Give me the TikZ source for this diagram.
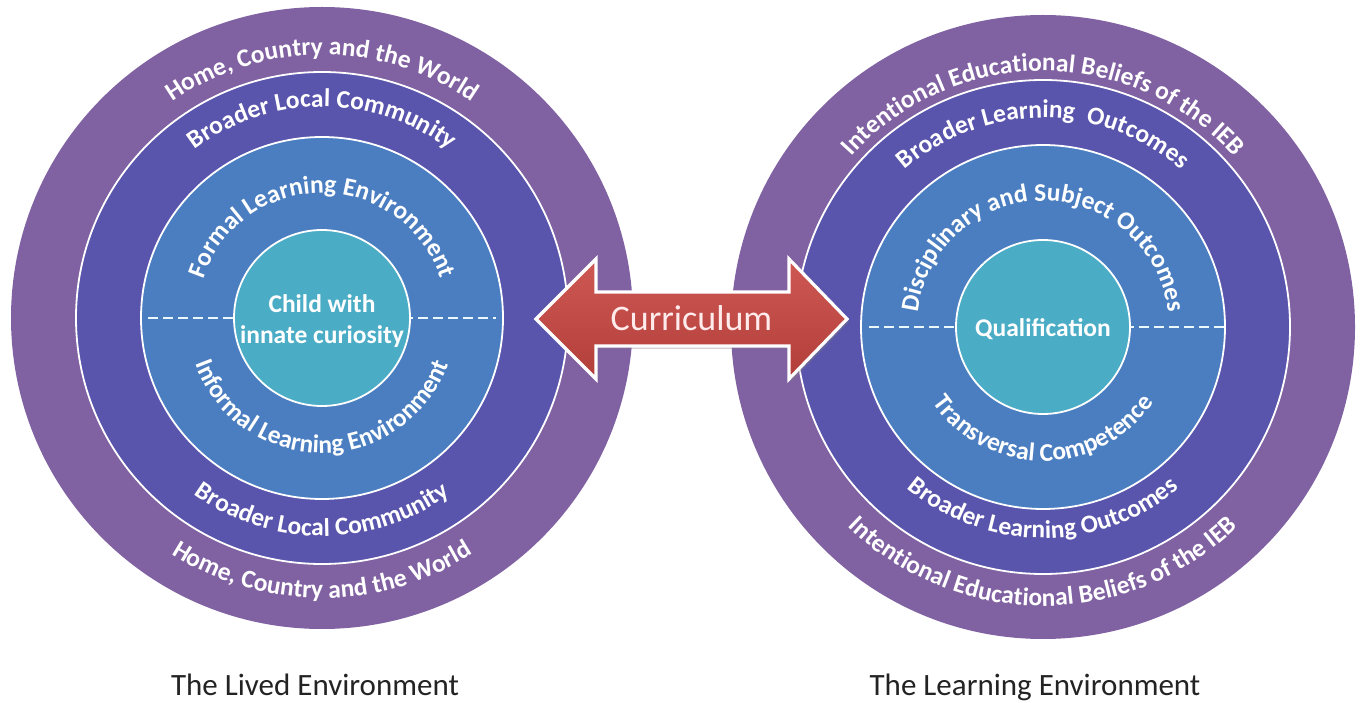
\documentclass[tikz,border=0pt]{standalone}
\usepackage{fontspec}
\setmainfont{Carlito}
\usetikzlibrary{decorations.text,shadows,calc}

\definecolor{ringOuter}{RGB}{128,97,162}
\definecolor{ringMid}{RGB}{89,84,172}
\definecolor{ringInner}{RGB}{74,126,193}
\definecolor{coreAqua}{RGB}{75,172,198}
\definecolor{arrowTop}{RGB}{206,88,84}
\definecolor{arrowBot}{RGB}{178,62,58}
\definecolor{capText}{RGB}{35,35,35}

\newcommand\ringfont{\fontsize{25.5}{31}\selectfont\bfseries}

% curved label along the upper half of a ring: centre, baseline radius, text
\newcommand\upperlabel[3]{%
  \path[decorate,decoration={text along path,text align=center,
    text={|\ringfont\color{white}|#3}}]
    ($(#1)+(200:#2)$) arc[start angle=200,end angle=-20,radius=#2];
}
% curved label along the lower half of a ring
\newcommand\lowerlabel[3]{%
  \path[decorate,decoration={text along path,text align=center,
    text={|\ringfont\color{white}|#3}}]
    ($(#1)+(160:#2)$) arc[start angle=160,end angle=380,radius=#2];
}

\tikzset{
  ringline/.style={draw=white,line width=1.8pt},
  splitline/.style={draw=white!92!cyan,line width=2.8pt,dash pattern=on 10pt off 5pt},
  corelabel/.style={font=\ringfont,text=white,align=center},
  caption/.style={font=\fontsize{31}{31}\selectfont,text=capText,anchor=base,inner sep=0pt},
}

\begin{document}
\begin{tikzpicture}[x=1pt,y=1pt]
  \fill[white] (0,0) rectangle (1362,702);
  \useasboundingbox (0,0) rectangle (1362,702);

  \coordinate (lc) at (322,384);
  \coordinate (rc) at (1043,375);

  % ---- the lived environment ----
  \fill[ringOuter] (lc) circle[radius=311pt];
  \fill[ringMid,ringline] (lc) circle[radius=246pt];
  \fill[ringInner,ringline] (lc) circle[radius=181pt];
  \draw[splitline] ($(lc)+(-174,0)$) -- ($(lc)+(174,0)$);
  \node[circle,minimum size=176pt,fill=coreAqua,ringline,inner sep=0pt] (lcore) at (lc) {};
  \node[corelabel] (lchild) at ($(lc)+(0,-3)$) {Child with\\innate curiosity};

  \upperlabel{lc}{263pt}{Home, Country and the World}
  \upperlabel{lc}{211pt}{Broader Local Community}
  \upperlabel{lc}{125pt}{Formal Learning Environment}
  \lowerlabel{lc}{135pt}{Informal Learning Environment}
  \lowerlabel{lc}{218pt}{Broader Local Community}
  \lowerlabel{lc}{280pt}{Home, Country and the World}

  % ---- the learning environment ----
  \fill[ringOuter] (rc) circle[radius=312pt];
  \fill[ringMid,ringline] (rc) circle[radius=247pt];
  \fill[ringInner,ringline] (rc) circle[radius=182pt];
  \draw[splitline] ($(rc)+(-174,0)$) -- ($(rc)+(182,0)$);
  \node[circle,minimum size=174pt,fill=coreAqua,ringline,inner sep=0pt] (rcore) at (rc) {};
  \node[corelabel] (rqual) at ($(rc)+(0,-2)$) {Qualification};

  \upperlabel{rc}{256pt}{Intentional Educational Beliefs of the IEB}
  \upperlabel{rc}{209pt}{Broader Learning {\ }Outcomes}
  \upperlabel{rc}{126pt}{Disciplinary and Subject Outcomes}
  \lowerlabel{rc}{134pt}{Transversal Competence}
  \lowerlabel{rc}{211pt}{Broader Learning Outcomes}
  \lowerlabel{rc}{279pt}{Intentional Educational Beliefs of the IEB}

  % ---- curriculum double arrow ----
  \coordinate (tipL) at (536,383);
  \coordinate (tipR) at (847,383);
  \draw[white,line width=3.2pt,line join=miter,top color=arrowTop,bottom color=arrowBot,
        drop shadow={opacity=.35,shadow xshift=2pt,shadow yshift=-3pt}]
    (tipL) -- (596,443) -- (596,410) -- (789,410) -- (789,443) -- (tipR)
    -- (789,323) -- (789,356) -- (596,356) -- (596,323) -- cycle;
  \node[font=\fontsize{36}{36}\selectfont,text=white!92!red] (curr) at ($(tipL)!0.5!(tipR)+(0,1)$) {Curriculum};

  % ---- captions ----
  \node[caption] (capL) at (315,7) {The Lived Environment};
  \node[caption] (capR) at (1035,7) {The Learning Environment};
\end{tikzpicture}
\end{document}
